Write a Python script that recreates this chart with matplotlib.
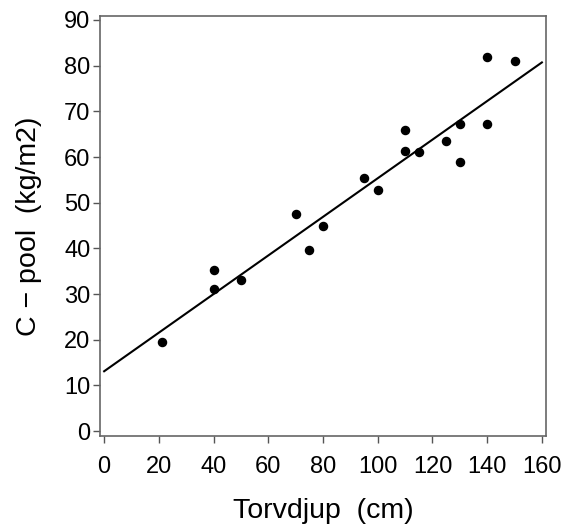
import numpy as np
import matplotlib
matplotlib.use('Agg')
import matplotlib.pyplot as plt

plt.rcParams['font.family'] = ['Liberation Sans', 'DejaVu Sans']

# Data
depth = [21, 40, 40, 50, 70, 75, 80, 95, 100, 110, 110, 115, 125, 130, 130, 140, 140, 150]
cpool = [19.5, 35.2, 31.0, 33.0, 47.5, 39.6, 44.8, 55.4, 52.7, 66.0, 61.3, 61.0, 63.6, 67.2, 59.0, 81.9, 67.3, 81.0]
fit_intercept = 13.1
fit_slope = 0.4225
xticks = [0, 20, 40, 60, 80, 100, 120, 140, 160]
yticks = [0, 10, 20, 30, 40, 50, 60, 70, 80, 90]

fig = plt.figure(figsize=(5.62, 5.28), dpi=100)
ax = fig.add_axes([0.178, 0.174, 0.7935, 0.796])

xs = np.array([0, 160])
ax.plot(xs, fit_intercept + fit_slope * xs, color='black', lw=1.5)
ax.scatter(depth, cpool, s=34, color='black', zorder=3)

ax.set_xlim(-1.5, 161.5)
ax.set_ylim(-1.1, 90.9)
ax.set_xticks(xticks)
ax.set_yticks(yticks)
ax.tick_params(labelsize=17, length=5, width=1, color='#555555')
ax.tick_params(axis='x', pad=9)
ax.tick_params(axis='y', pad=2)
for s in ax.spines.values():
    s.set_color('#666666')
    s.set_linewidth(1.2)

ax.set_xlabel('Torvdjup  (cm)', fontsize=20.5, labelpad=15)
ax.set_ylabel('C \u2212 pool  (kg/m2)', fontsize=20.5, labelpad=16)

fig.savefig('out.png', dpi=100)
